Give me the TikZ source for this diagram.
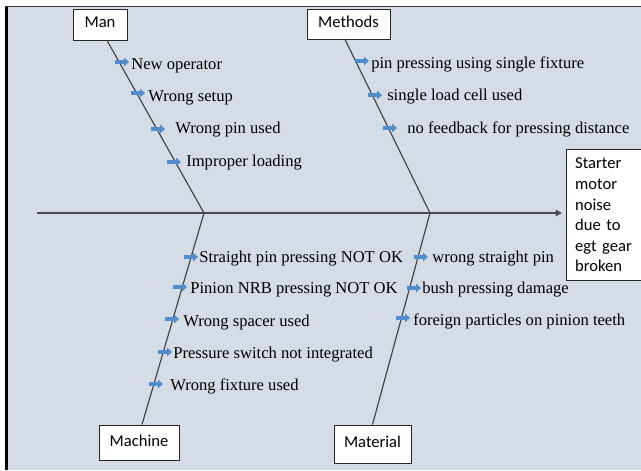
\documentclass[tikz,border=0pt]{standalone}
\usepackage{fontspec}
\setmainfont{Liberation Serif}
\newfontfamily\causefont{Liberation Serif}
\newfontfamily\boxfont{Carlito}
\usetikzlibrary{arrows.meta, calc}
\definecolor{panelgray}{RGB}{214,220,229}
\definecolor{tickblue}{RGB}{79,141,204}
\definecolor{bonegray}{RGB}{64,64,64}

\begin{document}
\begin{tikzpicture}[
  x=0.025cm, y=-0.025cm,
  every node/.style={font=\causefont\fontsize{11.8}{14.6}\selectfont},
  catbox/.style={draw=black!85, line width=0.6pt, fill=white, inner sep=0pt,
                 font=\boxfont\fontsize{11.8}{14.6}\selectfont, text depth=0.6ex},
  effbox/.style={catbox, text depth=, anchor=north west, align=left,
                 text width=1.45cm, inner xsep=0.22cm, minimum height=3.275cm},
  cause/.style={anchor=base west, inner sep=0pt},
  bone/.style={bonegray, line width=0.8pt},
  spine/.style={black!70, line width=1pt, -{Triangle[length=4.5pt, width=4.5pt]}},
  tick/.style={tickblue, line width=2.3pt, -{Triangle[length=3.5pt, width=6pt]}},
]
\useasboundingbox (0,0) rectangle (641,470);

%% ── PANEL ─────────────────────────────────────────────────────────────
\fill[white] (0,0) rectangle (641,470);
\fill[panelgray] (5,6) rectangle (641,470);
\fill[black] (5,6) rectangle (8,470);
\draw[black!80, line width=1.1pt] (5,6.5) -- (641,6.5);

%% ── CATEGORY BOXES ────────────────────────────────────────────────────
\node[catbox, minimum width=1.35cm, minimum height=0.775cm]
  (man)      at (100, 24.5)  {Man};
\node[catbox, minimum width=2.075cm, minimum height=0.75cm]
  (methods)  at (348.5, 24)  {Methods};
\node[catbox, minimum width=2.0cm, minimum height=0.875cm]
  (machine)  at (139, 442.5) {Machine};
\node[catbox, minimum width=1.925cm, minimum height=0.95cm]
  (material) at (372.5, 444) {Material};

%% ── EFFECT ────────────────────────────────────────────────────────────
\node[effbox] (effect) at (566, 149)
  {Starter\\motor\\noise\\due to\\egt gear\\broken};

%% ── SPINE AND BONES ───────────────────────────────────────────────────
\coordinate (tail)   at (37, 213);
\coordinate (head)   at (562, 213);
\coordinate (jleft)  at (204, 213);
\coordinate (jright) at (430, 213);

\draw[spine] (tail) -- (head);
\draw[bone] ($(man.south)+(7,0)$) -- (jleft);
\draw[bone] (jleft) -- ($(machine.north)+(3,0)$);
\draw[bone] ($(methods.south)+(-3.5,0)$) -- (jright);
\draw[bone] (jright) -- (material.north);

%% ── MAN ───────────────────────────────────────────────────────────────
\coordinate (mn1) at (115, 62);
\coordinate (mn2) at (131, 93);
\coordinate (mn3) at (151, 129);
\coordinate (mn4) at (167, 162);
\node[cause] (newop)   at (131, 69)  {New operator};
\node[cause] (setup)   at (148, 101) {Wrong setup};
\node[cause] (wrongpin) at (175, 133) {Wrong pin used};
\node[cause] (loading) at (186, 166) {Improper loading};
\draw[tick] (mn1) -- ++(14,0);
\draw[tick] (mn2) -- ++(14,0);
\draw[tick] (mn3) -- ++(14,0);
\draw[tick] (mn4) -- ++(14,0);

%% ── METHODS ───────────────────────────────────────────────────────────
\coordinate (me1) at (355, 61);
\coordinate (me2) at (368, 95);
\coordinate (me3) at (383, 128);
\node[cause] (singlefix) at (371, 68)  {pin pressing using single fixture};
\node[cause] (loadcell)  at (387, 100) {single load cell used};
\node[cause] (feedback)  at (407, 133) {no feedback for pressing distance};
\draw[tick] (me1) -- ++(14,0);
\draw[tick] (me2) -- ++(14,0);
\draw[tick] (me3) -- ++(14,0);

%% ── MACHINE ───────────────────────────────────────────────────────────
\coordinate (ma1) at (184, 257);
\coordinate (ma2) at (173, 287);
\coordinate (ma3) at (165, 319);
\coordinate (ma4) at (158, 352);
\coordinate (ma5) at (149, 384);
\node[cause] (straightok) at (199, 262) {Straight pin pressing NOT OK};
\node[cause] (nrbok)      at (190, 293) {Pinion NRB pressing NOT OK};
\node[cause] (spacer)     at (183, 326) {Wrong spacer used};
\node[cause] (pswitch)    at (173, 358) {Pressure switch not integrated};
\node[cause] (fixture)    at (170, 390) {Wrong fixture used};
\draw[tick] (ma1) -- ++(14,0);
\draw[tick] (ma2) -- ++(14,0);
\draw[tick] (ma3) -- ++(14,0);
\draw[tick] (ma4) -- ++(14,0);
\draw[tick] (ma5) -- ++(14,0);

%% ── MATERIAL ──────────────────────────────────────────────────────────
\coordinate (mt1) at (414, 257);
\coordinate (mt2) at (407, 288);
\coordinate (mt3) at (396, 318);
\node[cause] (straightpin) at (432, 262) {wrong straight pin};
\node[cause] (bush)        at (422, 293) {bush pressing damage};
\node[cause] (particles)   at (413, 325) {foreign particles on pinion teeth};
\draw[tick] (mt1) -- ++(14,0);
\draw[tick] (mt2) -- ++(14,0);
\draw[tick] (mt3) -- ++(14,0);

\end{tikzpicture}
\end{document}
